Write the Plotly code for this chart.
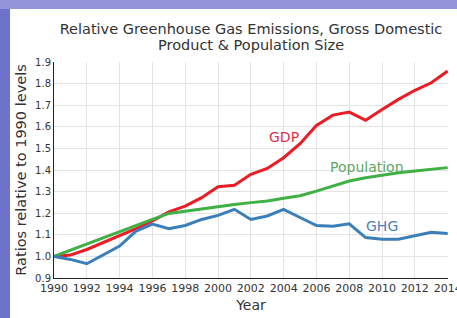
import plotly.graph_objects as go

years = list(range(1990, 2015))
gdp = [1.000, 1.006, 1.032, 1.063, 1.094, 1.128, 1.164, 1.206, 1.233, 1.272, 1.323, 1.329,
       1.380, 1.407, 1.457, 1.522, 1.606, 1.654, 1.668, 1.630, 1.680, 1.727, 1.769, 1.804, 1.858]
population = [1.000, 1.029, 1.056, 1.086, 1.114, 1.145, 1.171, 1.199, 1.210, 1.221, 1.230, 1.240,
              1.249, 1.256, 1.269, 1.281, 1.302, 1.325, 1.349, 1.364, 1.376, 1.387, 1.395, 1.403, 1.411]
ghg = [1.000, 0.986, 0.966, 1.008, 1.048, 1.117, 1.150, 1.128, 1.143, 1.171, 1.190, 1.218,
       1.171, 1.187, 1.218, 1.180, 1.143, 1.140, 1.151, 1.087, 1.079, 1.079, 1.094, 1.112, 1.106]

series_names = ["GDP", "Population", "GHG"]
series_colors = ["#ec1c24", "#3fb044", "#3a7fb9"]
label_colors = ["#e0304a", "#5da85f", "#4a80b8"]
label_pos = [(2004.0, 1.553), (2009.1, 1.414), (2010.0, 1.141)]

title_line1 = "Relative Greenhouse Gas Emissions, Gross Domestic"
title_line2 = "Product &amp; Population Size"

xtick_vals = list(range(1990, 2015, 2))
ytick_vals = [0.9, 1.0, 1.1, 1.2, 1.3, 1.4, 1.5, 1.6, 1.7, 1.8, 1.9]
ytick_text = ["0.9", "1.0", "1.1", "1.2", "1.3", "1.4", "1.5", "1.6", "1.7", "1.8", "1.9"]

fig = go.Figure()
for name, vals, col in zip(series_names, [gdp, population, ghg], series_colors):
    fig.add_trace(go.Scatter(x=years, y=vals, mode="lines", name=name,
                             line=dict(color=col, width=3), showlegend=False, cliponaxis=False))

for name, (lx, ly), col in zip(series_names, label_pos, label_colors):
    fig.add_annotation(x=lx, y=ly, text=name, showarrow=False,
                       font=dict(family="DejaVu Sans", size=14, color=col))

fig.add_annotation(x=0.5, y=1.0787, xref="paper", yref="paper", text=title_line2,
                   showarrow=False, xanchor="center", yanchor="middle",
                   font=dict(family="DejaVu Sans", size=14.5, color="#333333"))

fig.update_layout(
    width=457, height=318, autosize=False,
    margin=dict(l=54, r=9, t=62, b=40),
    paper_bgcolor="white", plot_bgcolor="white",
    title=dict(text=title_line1,
               x=0.5, xref="paper", xanchor="center", y=0.9088, yanchor="middle",
               font=dict(family="DejaVu Sans", size=14.5, color="#333333")),
    font=dict(family="DejaVu Sans", color="#333333"),
    shapes=[
        dict(type="rect", xref="paper", yref="paper", x0=-0.2, x1=-0.1117, y0=-0.4, y1=1.6,
             fillcolor="#6e72c9", line=dict(width=0), layer="below"),
        dict(type="rect", xref="paper", yref="paper", x0=-0.2, x1=1.2, y0=1.245, y1=1.6,
             fillcolor="#9394da", line=dict(width=0), layer="below"),
    ],
)

fig.update_xaxes(range=[1990, 2014.02], tickvals=xtick_vals, showgrid=True, gridcolor="#e3e3e3",
                 gridwidth=1, showline=True, linecolor="#222222", linewidth=1,
                 ticks="", ticklabeloverflow="allow", automargin=False,
                 tickfont=dict(family="DejaVu Sans", size=11, color="#333333"),
                 title=dict(text="Year", font=dict(family="DejaVu Sans", size=14, color="#333333"), standoff=5),
                 zeroline=False)
fig.update_yaxes(range=[0.9, 1.9], tickvals=ytick_vals, ticktext=ytick_text, showgrid=True,
                 gridcolor="#e3e3e3", gridwidth=1, showline=True, linecolor="#222222", linewidth=1,
                 ticks="", automargin=False,
                 tickfont=dict(family="DejaVu Sans", size=10, color="#333333"),
                 title=dict(text="Ratios relative to 1990 levels",
                            font=dict(family="DejaVu Sans", size=14.5, color="#333333"), standoff=5),
                 zeroline=False)

fig.write_html("out.html", config={"responsive": False, "displayModeBar": False},
               post_script="document.body.style.margin='0px';")
